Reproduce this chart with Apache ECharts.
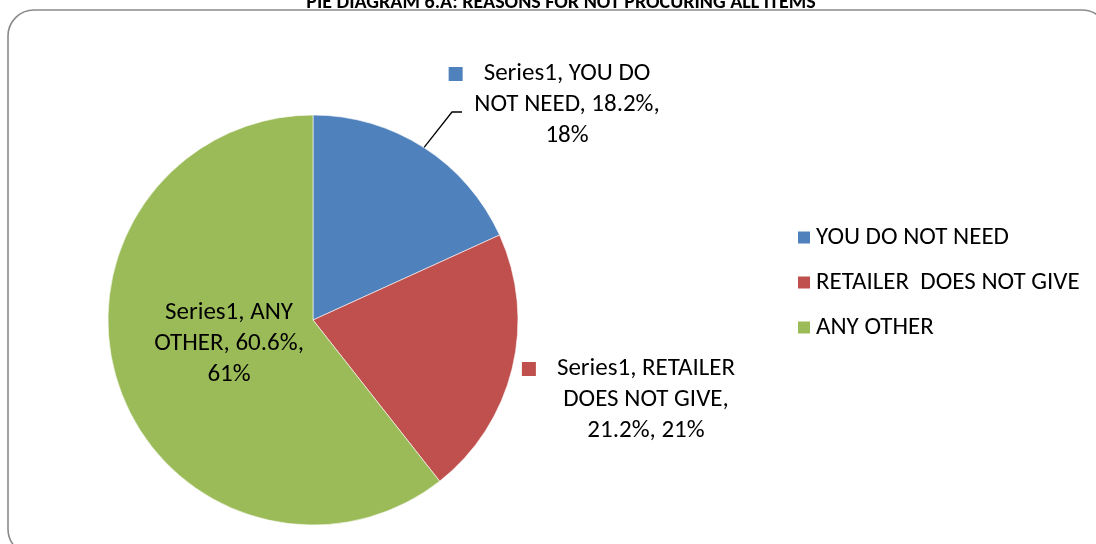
<!DOCTYPE html>
<html>
<head>
<meta charset="utf-8">
<title>Pie diagram 6.A</title>
<script src="https://cdn.jsdelivr.net/npm/echarts@6/dist/echarts.min.js"></script>
<style>
  html, body { margin: 0; padding: 0; background: #ffffff; }
  #chart { width: 1096px; height: 544px; }
</style>
</head>
<body>
<div id="chart"></div>
<script>
// Reasons for not procuring all items (share of respondents, %)
const seriesName = 'Series1';
const categories = ['YOU DO NOT NEED', 'RETAILER  DOES NOT GIVE', 'ANY OTHER'];
const values = [18.2, 21.2, 60.6];
const colors = ['#4F81BD', '#C0504D', '#9BBB59'];
const chartTitle = 'PIE DIAGRAM 6.A: REASONS FOR NOT PROCURING ALL ITEMS';

const FONT = 'Carlito, Calibri, Lato, sans-serif';
const FS = 25;

// greedy word wrap by character count
function wrap(text, maxChars) {
  const words = text.split(/\s+/);
  const lines = [];
  let cur = '';
  words.forEach(w => {
    const next = cur ? cur + ' ' + w : w;
    if (next.length > maxChars && cur) { lines.push(cur); cur = w; }
    else cur = next;
  });
  if (cur) lines.push(cur);
  return lines;
}

// per slice: wrap width, whether a legend key is shown, label anchor
const labelSetup = [
  { chars: 17, key: true,  inside: false, x: 567, y: 105 },
  { chars: 17, key: true,  inside: false, x: 646, y: 400 },
  { chars: 16, key: false, inside: true,  x: 229, y: 344 }
];

const total = values.reduce((a, b) => a + b, 0);

const data = categories.map((name, i) => {
  const pct = Math.round(values[i] / total * 100);
  const text = `${seriesName}, ${name}, ${values[i].toFixed(1)}%, ${pct}%`;
  const lines = wrap(text, labelSetup[i].chars);
  const parts = lines.map((ln, k) => {
    if (k === 0 && labelSetup[i].key) return `{key${i}|}{gap|}{t|${ln}}{gap2|}`;
    return `{t|${ln}}`;
  });
  const rich = { t: { fontSize: FS, fontFamily: FONT, color: '#000', lineHeight: 31 },
                 gap: { width: 21 }, gap2: { width: 35 } };
  rich['key' + i] = { width: 14, height: 14, backgroundColor: colors[i] };
  return {
    name,
    value: values[i],
    itemStyle: { color: colors[i] },
    label: {
      show: true,
      position: labelSetup[i].inside ? 'inside' : 'outside',
      formatter: parts.join('\n'),
      rich,
      align: 'center'
    },
    labelLine: { show: i === 0, length: 20, length2: 10, lineStyle: { color: '#000', width: 1.3 } }
  };
});

const chart = echarts.init(document.getElementById('chart'), null, { renderer: 'canvas' });

chart.setOption({
  backgroundColor: '#ffffff',
  animation: false,
  title: {
    text: chartTitle,
    left: 556,
    textAlign: 'center',
    top: -12,
    textStyle: { fontFamily: FONT, fontWeight: 'bold', fontSize: 20, color: '#000' }
  },
  graphic: [{
    type: 'rect',
    shape: { x: 8, y: 10, width: 1100, height: 545, r: 26 },
    style: { fill: null, stroke: '#8a8a8a', lineWidth: 1.6 },
    silent: true,
    z: -1
  }],
  legend: {
    orient: 'vertical',
    left: 791,
    top: 219,
    icon: 'rect',
    itemWidth: 14,
    itemHeight: 14,
    itemGap: 18,
    textStyle: { fontFamily: FONT, fontSize: FS, color: '#000', lineHeight: 27, padding: [0, 0, 0, 0] },
    data: categories
  },
  series: [{
    name: seriesName,
    type: 'pie',
    center: [313, 320],
    radius: 205,
    startAngle: 90,
    clockwise: true,
    avoidLabelOverlap: false,
    itemStyle: { borderColor: '#ffffff', borderWidth: 0.6 },
    emphasis: { disabled: true },
    labelLayout: function (params) {
      const s = labelSetup[params.dataIndex];
      const out = { x: s.x, y: s.y, align: 'center', verticalAlign: 'middle' };
      if (params.dataIndex === 0 && params.labelLinePoints) {
        const start = params.labelLinePoints[0];
        const end = [s.x - 105, s.y + 7];
        out.labelLinePoints = [start, [end[0] - 10, end[1]], end];
      }
      return out;
    },
    data
  }]
});
</script>
</body>
</html>
